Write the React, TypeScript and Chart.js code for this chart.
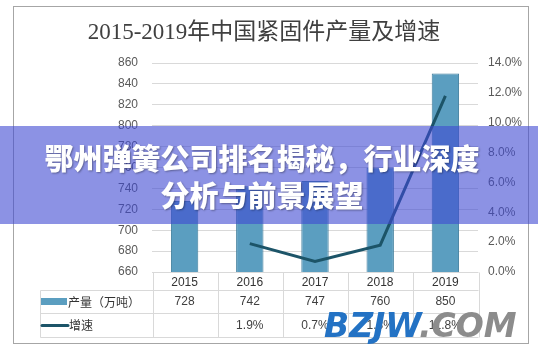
import React, { useEffect, useRef } from "react";
import { Chart, registerables } from "chart.js";
Chart.register(...registerables);

const title = "2015-2019年中国紧固件产量及增速";
const categories = ["2015", "2016", "2017", "2018", "2019"];
const output = [728, 742, 747, 760, 850];
const growth: (number | null)[] = [null, 1.9, 0.7, 1.8, 11.8];
const growthLabels = ["", "1.9%", "0.7%", "1.8%", "11.8%"];
const outputLabel = "产量（万吨）";
const growthLabel = "增速";
const bannerLines = ["鄂州弹簧公司排名揭秘，行业深度", "分析与前景展望"];

const BAR_COLOR = "#5b9ec0";
const BAR_BORDER = "#3f7d9c";
const LINE_COLOR = "#1c5468";

const line = (ctx: CanvasRenderingContext2D, x1: number, y1: number, x2: number, y2: number) => {
  ctx.beginPath();
  ctx.moveTo(x1, y1);
  ctx.lineTo(x2, y2);
  ctx.stroke();
};

const tablePlugin = {
  id: "tablePlugin",
  beforeDraw(chart: any) {
    const ctx = chart.ctx as CanvasRenderingContext2D;
    ctx.save();
    ctx.fillStyle = "#ffffff";
    ctx.fillRect(0, 0, chart.width, chart.height);
    ctx.fillStyle = "#404040";
    ctx.font = '23px "Liberation Serif", "Noto Sans CJK SC", serif';
    ctx.textAlign = "center";
    ctx.textBaseline = "middle";
    ctx.fillText(title, 264, 33);
    ctx.restore();
  },
  afterDraw(chart: any) {
    const ctx = chart.ctx as CanvasRenderingContext2D;
    const area = chart.chartArea;
    const xs = chart.scales.x;
    const L = Math.round(area.left) + 0.5;
    const R = Math.round(area.right) + 0.5;
    const T = Math.round(area.bottom) + 0.5;
    const n = categories.length;
    const colW = (R - L) / n;
    const rows = [T, T + 18, T + 41, T + 65];
    const tableLeft = 40.5;
    ctx.save();
    ctx.strokeStyle = "#d9d9d9";
    ctx.lineWidth = 1;
    line(ctx, L, rows[0], R, rows[0]);
    for (let r = 1; r < rows.length; r++) line(ctx, tableLeft, rows[r], R, rows[r]);
    for (let i = 0; i <= n; i++) {
      const x = Math.round(L + i * colW) + 0.5;
      line(ctx, x, rows[0], x, rows[3]);
    }
    line(ctx, tableLeft, rows[1], tableLeft, rows[3]);

    ctx.textAlign = "center";
    ctx.textBaseline = "middle";
    ctx.font = '12px "Liberation Sans", sans-serif';
    categories.forEach((c, i) => {
      const x = xs.getPixelForValue(i);
      ctx.fillStyle = "#333333";
      ctx.fillText(c, x, (rows[0] + rows[1]) / 2 + 1);
      ctx.fillStyle = "#404040";
      ctx.fillText(String(output[i]), x, (rows[1] + rows[2]) / 2);
      ctx.fillText(growthLabels[i], x, (rows[2] + rows[3]) / 2);
    });

    // legend keys
    const y1 = (rows[1] + rows[2]) / 2;
    const y2 = (rows[2] + rows[3]) / 2;
    ctx.fillStyle = BAR_COLOR;
    ctx.fillRect(41, y1 - 4, 26, 7);
    ctx.strokeStyle = LINE_COLOR;
    ctx.lineWidth = 3;
    ctx.lineCap = "round";
    line(ctx, 42, y2, 68, y2);
    ctx.fillStyle = "#333333";
    ctx.textAlign = "left";
    ctx.font = '12px "Noto Sans CJK SC", sans-serif';
    ctx.fillText(outputLabel, 68, y1);
    ctx.fillText(growthLabel, 69, y2);

    // outer frame
    ctx.strokeStyle = "#a6a6a6";
    ctx.lineWidth = 1;
    ctx.strokeRect(13.5, 6.5, 515, 337);
    ctx.restore();
  },
};

export default function App() {
  const ref = useRef<HTMLCanvasElement>(null);
  useEffect(() => {
    if (!ref.current) return;
    const chart = new Chart(ref.current, {
      type: "bar",
      data: {
        labels: categories,
        datasets: [
          {
            type: "line",
            label: growthLabel,
            data: growth,
            yAxisID: "y1",
            borderColor: LINE_COLOR,
            borderWidth: 3,
            pointRadius: 0,
            tension: 0,
            order: 0,
          } as any,
          {
            type: "bar",
            label: outputLabel,
            data: output,
            yAxisID: "y",
            backgroundColor: BAR_COLOR,
            borderColor: BAR_BORDER,
            borderWidth: 1,
            barPercentage: 0.42,
            categoryPercentage: 1,
            order: 1,
          },
        ],
      },
      options: {
        responsive: false,
        animation: false,
        layout: { padding: { top: 63, bottom: 81, left: 0, right: 0 } },
        plugins: { legend: { display: false }, title: { display: false }, tooltip: { enabled: false } },
        scales: {
          x: { display: false, offset: true },
          y: {
            position: "left",
            min: 660,
            max: 860,
            ticks: { stepSize: 20, padding: 14, color: "#595959", font: { family: "Liberation Sans", size: 12 } },
            grid: { color: "#d9d9d9", drawTicks: false },
            border: { display: false },
            afterFit: (s: any) => { s.width = 152; },
          },
          y1: {
            position: "right",
            min: 0,
            max: 14,
            ticks: {
              stepSize: 2,
              padding: 10,
              color: "#595959",
              font: { family: "Liberation Sans", size: 12 },
              callback: (v: any) => Number(v).toFixed(1) + "%",
            },
            grid: { display: false, drawTicks: false },
            border: { display: false },
            afterFit: (s: any) => { s.width = 60; },
          },
        },
      },
      plugins: [tablePlugin],
    });
    return () => chart.destroy();
  }, []);

  return (
    <div style={{ position: "absolute", left: 0, top: 0, width: 538, height: 353, background: "#fff", overflow: "hidden" }}>
      <canvas ref={ref} width={538} height={353} style={{ display: "block" }} />
      <div
        style={{
          position: "absolute",
          left: 0,
          top: 126,
          width: 538,
          height: 98,
          background: "rgba(63,73,210,0.6)",
          color: "#ffffff",
          fontFamily: '"Noto Sans CJK SC", sans-serif',
          fontWeight: 900,
          fontSize: 29,
          lineHeight: "37px",
          textAlign: "center",
          paddingTop: 13,
          paddingRight: 14,
          boxSizing: "border-box",
          textShadow: "1px 1px 2px rgba(0,0,0,0.35)",
        }}
      >
        {bannerLines.map((t) => (
          <div key={t}>{t}</div>
        ))}
      </div>
      <div
        style={{
          position: "absolute",
          left: 324,
          top: 306,
          fontFamily: '"DejaVu Sans", sans-serif',
          fontWeight: 700,
          fontStyle: "italic",
          fontSize: 33,
          lineHeight: "40px",
          whiteSpace: "nowrap",
        }}
      >
        <span style={{ color: "#2372c4" }}>BZJW</span>
        <span style={{ color: "#8c8c8c" }}>.COM</span>
      </div>
    </div>
  );
}
